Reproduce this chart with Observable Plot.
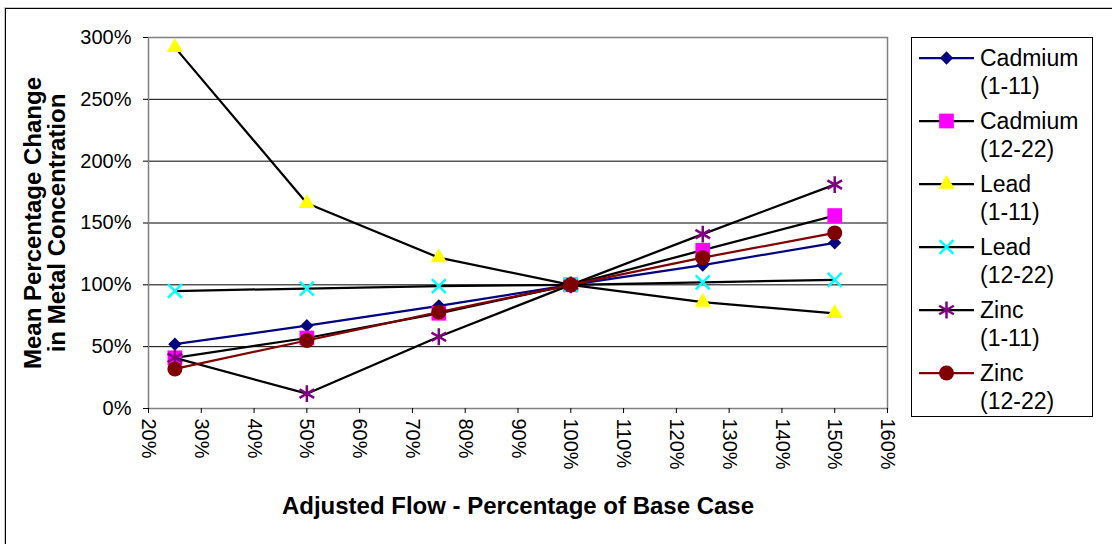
<!DOCTYPE html>
<html><head><meta charset="utf-8">
<script src="https://cdn.jsdelivr.net/npm/d3@7"></script>
<script src="https://cdn.jsdelivr.net/npm/@observablehq/plot@0.6"></script>
<style>
body{margin:0;background:#fff;}
#wrap{position:relative;width:1112px;height:544px;overflow:hidden;font-family:"Liberation Sans",Arial,sans-serif;background:#fff;}
#border{position:absolute;left:5px;top:8px;width:2000px;height:2000px;border-left:1px solid #000;border-top:1px solid #000;box-shadow:-1px -1px 0 #c8c8c8;}
#chart{position:absolute;left:0;top:0;}
#legend{position:absolute;left:911px;top:37px;width:182px;height:380px;border:1px solid #000;box-sizing:border-box;background:#fff;}
.item{position:absolute;left:0;width:180px;height:56px;}
.item svg{position:absolute;left:7px;top:0;}
.item .lab{position:absolute;left:68px;top:0;font-size:23px;line-height:28px;color:#000;white-space:nowrap;}
</style>
</head><body>
<div id="wrap"><div id="border"></div><div id="chart"></div><div id="legend"></div></div>
<script>
// ---- data ----
const flows = [25, 50, 75, 100, 125, 150];
const cadmium1 = [52, 67, 83, 100, 116, 134];
const cadmium2 = [41, 57, 77, 100, 128, 156];
const lead1    = [292, 166, 122, 100, 86, 77];
const lead2    = [95, 97, 99, 100, 102, 104];
const zinc1    = [41, 12, 58, 100, 141, 181];
const zinc2    = [32, 55, 78, 100, 122, 142];
const seriesNames = ["Cadmium (1-11)", "Cadmium (12-22)", "Lead (1-11)", "Lead (12-22)", "Zinc (1-11)", "Zinc (12-22)"];
const legendLines = [["Cadmium","(1-11)"],["Cadmium","(12-22)"],["Lead","(1-11)"],["Lead","(12-22)"],["Zinc","(1-11)"],["Zinc","(12-22)"]];
const xTicks = [20,30,40,50,60,70,80,90,100,110,120,130,140,150,160];
const yTicks = [0,50,100,150,200,250,300];
const gridTicks = [50,100,150,200,250];
const xTitle = "Adjusted Flow - Percentage of Base Case";
const yTitle = "Mean Percentage Change\nin Metal Concentration";

const values = [cadmium1, cadmium2, lead1, lead2, zinc1, zinc2];
const styles = [
  {line:"#000080", symbol:"diamond2", fill:"#000080", stroke:"none", r:6, d3s:d3.symbolDiamond2},
  {line:"#000000", symbol:"square", fill:"#FF00FF", stroke:"none", r:8.3, d3s:d3.symbolSquare},
  {line:"#000000", symbol:"triangle", fill:"#FFFF00", stroke:"none", r:6, d3s:d3.symbolTriangle},
  {line:"#000000", symbol:"times", fill:"none", stroke:"#00FFFF", r:6.4, d3s:d3.symbolTimes},
  {line:"#000000", symbol:"asterisk", fill:"none", stroke:"#800080", r:8, d3s:d3.symbolAsterisk},
  {line:"#800000", symbol:"circle", fill:"#800000", stroke:"none", r:7.5, d3s:d3.symbolCircle}
];

const marks = [
  Plot.gridY(gridTicks, {stroke:"#000", strokeOpacity:1, strokeWidth:1}),
  Plot.frame({stroke:"#808080", strokeWidth:1.5}),
  Plot.axisX(xTicks, {tickFormat:d => d + "%", tickRotate:90, fontSize:20, tickSize:5, tickPadding:5, label:null}),
  Plot.axisY(yTicks, {tickFormat:d => d + "%", fontSize:20, tickSize:5, tickPadding:12, label:null})
];
seriesNames.forEach((name, i) => {
  const rows = flows.map((f, j) => ({series:name, flow:f, value:values[i][j]}));
  const s = styles[i];
  marks.push(Plot.line(rows, {x:"flow", y:"value", stroke:s.line, strokeWidth:2.25}));
  marks.push(Plot.dot(rows, {x:"flow", y:"value", symbol:() => s.symbol, r:s.r, fill:s.fill, stroke:s.stroke, strokeWidth:2.5}));
});
marks.push(Plot.text([xTitle], {frameAnchor:"bottom", textAnchor:"middle", lineAnchor:"bottom", dy:105, fontWeight:"bold", fontSize:24}));
marks.push(Plot.text([yTitle], {frameAnchor:"left", textAnchor:"middle", lineAnchor:"middle", rotate:-90, dx:-103, fontWeight:"bold", fontSize:24, lineHeight:1.0}));

const chart = Plot.plot({
  width:1112, height:544,
  marginLeft:148, marginRight:225, marginTop:37, marginBottom:136,
  style:{fontFamily:"Liberation Sans, Arial, sans-serif", background:"transparent", overflow:"visible", color:"#000"},
  x:{domain:[20,160]},
  y:{domain:[0,300]},
  symbol:{type:"identity"},
  marks
});
document.getElementById("chart").appendChild(chart);

// ---- legend ----
const legend = d3.select("#legend");
seriesNames.forEach((name, i) => {
  const s = styles[i];
  const item = legend.append("div").attr("class","item").style("top", (6 + i*63) + "px");
  const svg = item.append("svg").attr("width",60).attr("height",28);
  svg.append("line").attr("x1",0).attr("x2",55).attr("y1",14).attr("y2",14).attr("stroke",s.line).attr("stroke-width",2.25);
  svg.append("path").attr("transform","translate(27.5,14)")
    .attr("d", d3.symbol().type(s.d3s).size(Math.PI*s.r*s.r)())
    .attr("fill", s.fill).attr("stroke", s.stroke).attr("stroke-width",2.5);
  const lab = item.append("div").attr("class","lab");
  lab.append("div").text(legendLines[i][0]);
  lab.append("div").text(legendLines[i][1]);
});
</script>
</body></html>
